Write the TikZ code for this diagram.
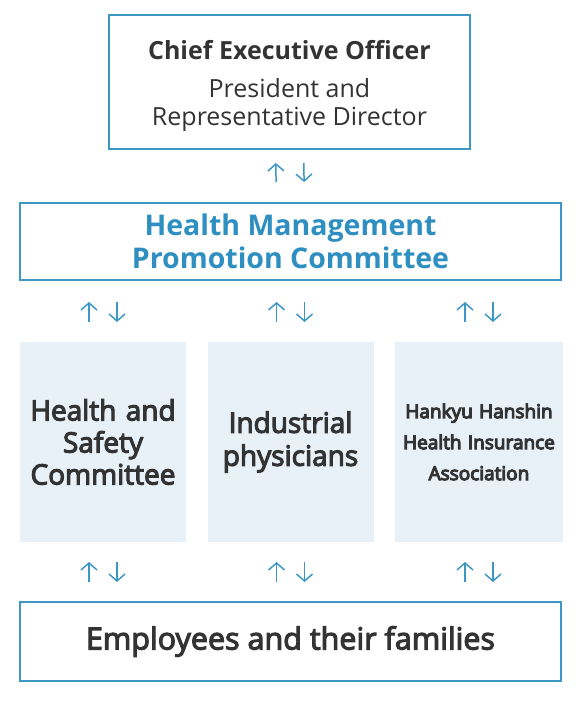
\documentclass[tikz,border=0pt]{standalone}
\usepackage{fontspec}
\setmainfont{Open Sans}
\usetikzlibrary{arrows.meta}
\definecolor{frameblue}{HTML}{3D97C4}
\definecolor{titleblue}{HTML}{2E8FC0}
\definecolor{paleblue}{HTML}{E9F1F8}
\definecolor{inkgrey}{HTML}{333333}
% medium weight: fill and stroke the glyphs
\newcommand\mediumtext[1]{\special{pdf:literal direct 1.1 w 2 Tr}#1\special{pdf:literal direct 0 Tr}}
\tikzset{
  framebox/.style={draw=frameblue, line width=1.6pt, fill=white, outer sep=0pt,
    align=center, text=inkgrey, inner sep=0pt},
  palebox/.style={fill=paleblue, outer sep=0pt, align=center, text=inkgrey,
    inner ysep=0pt, inner xsep=3pt, minimum height=200, text width=160},
  flowarrow/.style={draw=frameblue, line width=1.5pt,
    -{Straight Barb[length=7pt, width=16pt, line width=1.5pt]}},
}
\begin{document}
\begin{tikzpicture}[x=1pt, y=1pt]
            \useasboundingbox (0,0) rectangle (582,702);
            
            % Drawing box CEO
            \node (ceo) at (289.5,620) [framebox, minimum width=361, minimum height=134,
              font=\fontsize{25}{28}\selectfont]
              {\rule{0pt}{27pt}{\bfseries Chief Executive Officer}\\[10pt]President and\\Representative Director};%
            
            % Drawing box health management promotion committee
            \node (hmpc) at (290.5,460.5) [framebox, minimum width=541, minimum height=77,
              text=titleblue, font=\fontsize{28.5}{33}\selectfont\bfseries]
              {Health Management\\Promotion Committee};%
            
            % Drawing boxes of the middle row
            \node (hsc) at (103,260) [palebox, font=\fontsize{28}{32}\selectfont]
              {\mediumtext{Health and}\\\mediumtext{Safety}\\\mediumtext{Committee}};%
            \node (phys) at (290.5,260) [palebox, font=\fontsize{28}{33}\selectfont]
              {\mediumtext{Industrial}\\\mediumtext{physicians}};%
            \node (hhia) at (479,260) [palebox, inner xsep=4pt, font=\fontsize{19}{31}\selectfont]
              {\mediumtext{Hankyu Hanshin}\\\mediumtext{Health Insurance}\\\mediumtext{Association}};%
            
            % Drawing box employees
            \node (fam) at (290.5,60.5) [framebox, minimum width=541, minimum height=79,
              font=\fontsize{30.5}{34}\selectfont]
              {\mediumtext{Employees and their families}};%
            
            % Drawing arrows CEO -- committee
            \draw [flowarrow, shorten <=21, shorten >=14] ([xshift=-14]hmpc.north) -- ([xshift=-14]ceo.south);%
            \draw [flowarrow, shorten <=14, shorten >=21] ([xshift=14]ceo.south) -- ([xshift=14]hmpc.north);%
            
            % Drawing arrows committee -- middle row
            \draw [flowarrow, shorten <=20, shorten >=22] ([xshift=-14]hsc.north) -- ([xshift=-14]hsc.north |- hmpc.south);%
            \draw [flowarrow, shorten <=22, shorten >=20] ([xshift=14]hsc.north |- hmpc.south) -- ([xshift=14]hsc.north);%
            \draw [flowarrow, shorten <=20, shorten >=22] ([xshift=-14]phys.north) -- ([xshift=-14]phys.north |- hmpc.south);%
            \draw [flowarrow, shorten <=22, shorten >=20] ([xshift=14]phys.north |- hmpc.south) -- ([xshift=14]phys.north);%
            \draw [flowarrow, shorten <=20, shorten >=22] ([xshift=-14]hhia.north) -- ([xshift=-14]hhia.north |- hmpc.south);%
            \draw [flowarrow, shorten <=22, shorten >=20] ([xshift=14]hhia.north |- hmpc.south) -- ([xshift=14]hhia.north);%
            
            % Drawing arrows middle row -- employees
            \draw [flowarrow, shorten <=20, shorten >=20] ([xshift=-14]hsc.south |- fam.north) -- ([xshift=-14]hsc.south);%
            \draw [flowarrow, shorten <=20, shorten >=20] ([xshift=14]hsc.south) -- ([xshift=14]hsc.south |- fam.north);%
            \draw [flowarrow, shorten <=20, shorten >=20] ([xshift=-14]phys.south |- fam.north) -- ([xshift=-14]phys.south);%
            \draw [flowarrow, shorten <=20, shorten >=20] ([xshift=14]phys.south) -- ([xshift=14]phys.south |- fam.north);%
            \draw [flowarrow, shorten <=20, shorten >=20] ([xshift=-14]hhia.south |- fam.north) -- ([xshift=-14]hhia.south);%
            \draw [flowarrow, shorten <=20, shorten >=20] ([xshift=14]hhia.south) -- ([xshift=14]hhia.south |- fam.north);%
        \end{tikzpicture}
\end{document}
